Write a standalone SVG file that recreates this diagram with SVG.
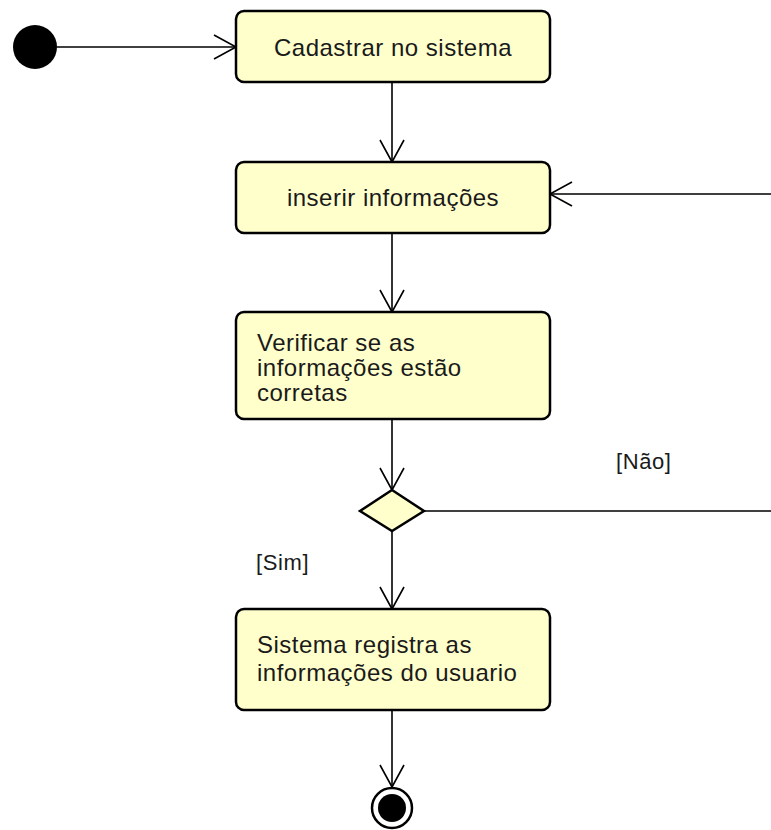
<svg xmlns="http://www.w3.org/2000/svg" width="771" height="830" viewBox="0 0 771 830">
  <defs>
    <marker id="open" markerWidth="26" markerHeight="28" refX="23" refY="13" orient="auto" markerUnits="userSpaceOnUse">
      <path d="M1,1 L23,13 L1,25" fill="none" stroke="#000" stroke-width="1.6"/>
    </marker>
  </defs>
  <style>
    .box { fill: #FFFFCC; stroke: #000; stroke-width: 2.5; }
    .lbl { font-family: "Liberation Sans", Arial, sans-serif; font-size: 24px; fill: #1a1a1a; letter-spacing: 0.5px; }
    .guard { font-family: "Liberation Sans", Arial, sans-serif; font-size: 22px; fill: #1a1a1a; letter-spacing: 0.6px; }
    .edge { fill: none; stroke: #000; stroke-width: 1.6; }
  </style>
  <rect width="771" height="830" fill="#fff"/>

  <g id="connectors">
    <line class="edge" x1="57" y1="47" x2="236" y2="47" marker-end="url(#open)"/>
    <line class="edge" x1="392" y1="82" x2="392" y2="162" marker-end="url(#open)"/>
    <line class="edge" x1="392" y1="233" x2="392" y2="312" marker-end="url(#open)"/>
    <line class="edge" x1="392" y1="419" x2="392" y2="490" marker-end="url(#open)"/>
    <line class="edge" x1="392" y1="531" x2="392" y2="609" marker-end="url(#open)"/>
    <line class="edge" x1="392" y1="710" x2="392" y2="787" marker-end="url(#open)"/>
    <polyline class="edge" points="424,511 800,511 800,194 550,194" marker-end="url(#open)"/>
    <text class="guard" x="616" y="469">[Não]</text>
    <text class="guard" x="256" y="570">[Sim]</text>
  </g>

  <g id="start">
    <circle cx="35" cy="47" r="22" fill="#000"/>
  </g>

  <g id="cadastrar">
    <rect class="box" x="236" y="11" width="314" height="71" rx="8"/>
    <text class="lbl" x="393" y="56" text-anchor="middle">Cadastrar no sistema</text>
  </g>

  <g id="inserir">
    <rect class="box" x="236" y="162" width="314" height="71" rx="8"/>
    <text class="lbl" x="393" y="206" text-anchor="middle">inserir informações</text>
  </g>

  <g id="verificar">
    <rect class="box" x="236" y="312" width="314" height="107" rx="8"/>
    <text class="lbl" x="257" y="351">Verificar se as</text>
    <text class="lbl" x="257" y="376">informações estão</text>
    <text class="lbl" x="257" y="401">corretas</text>
  </g>

  <g id="decision">
    <polygon points="392,490 424,511 392,531 360,511" fill="#FFFFCC" stroke="#000" stroke-width="2.5"/>
  </g>

  <g id="registra">
    <rect class="box" x="236" y="609" width="314" height="101" rx="8"/>
    <text class="lbl" x="257" y="653">Sistema registra as</text>
    <text class="lbl" x="257" y="681">informações do usuario</text>
  </g>

  <g id="end">
    <circle cx="392" cy="808" r="20" fill="#fff" stroke="#000" stroke-width="2.5"/>
    <circle cx="392" cy="808" r="14" fill="#000"/>
  </g>
</svg>
